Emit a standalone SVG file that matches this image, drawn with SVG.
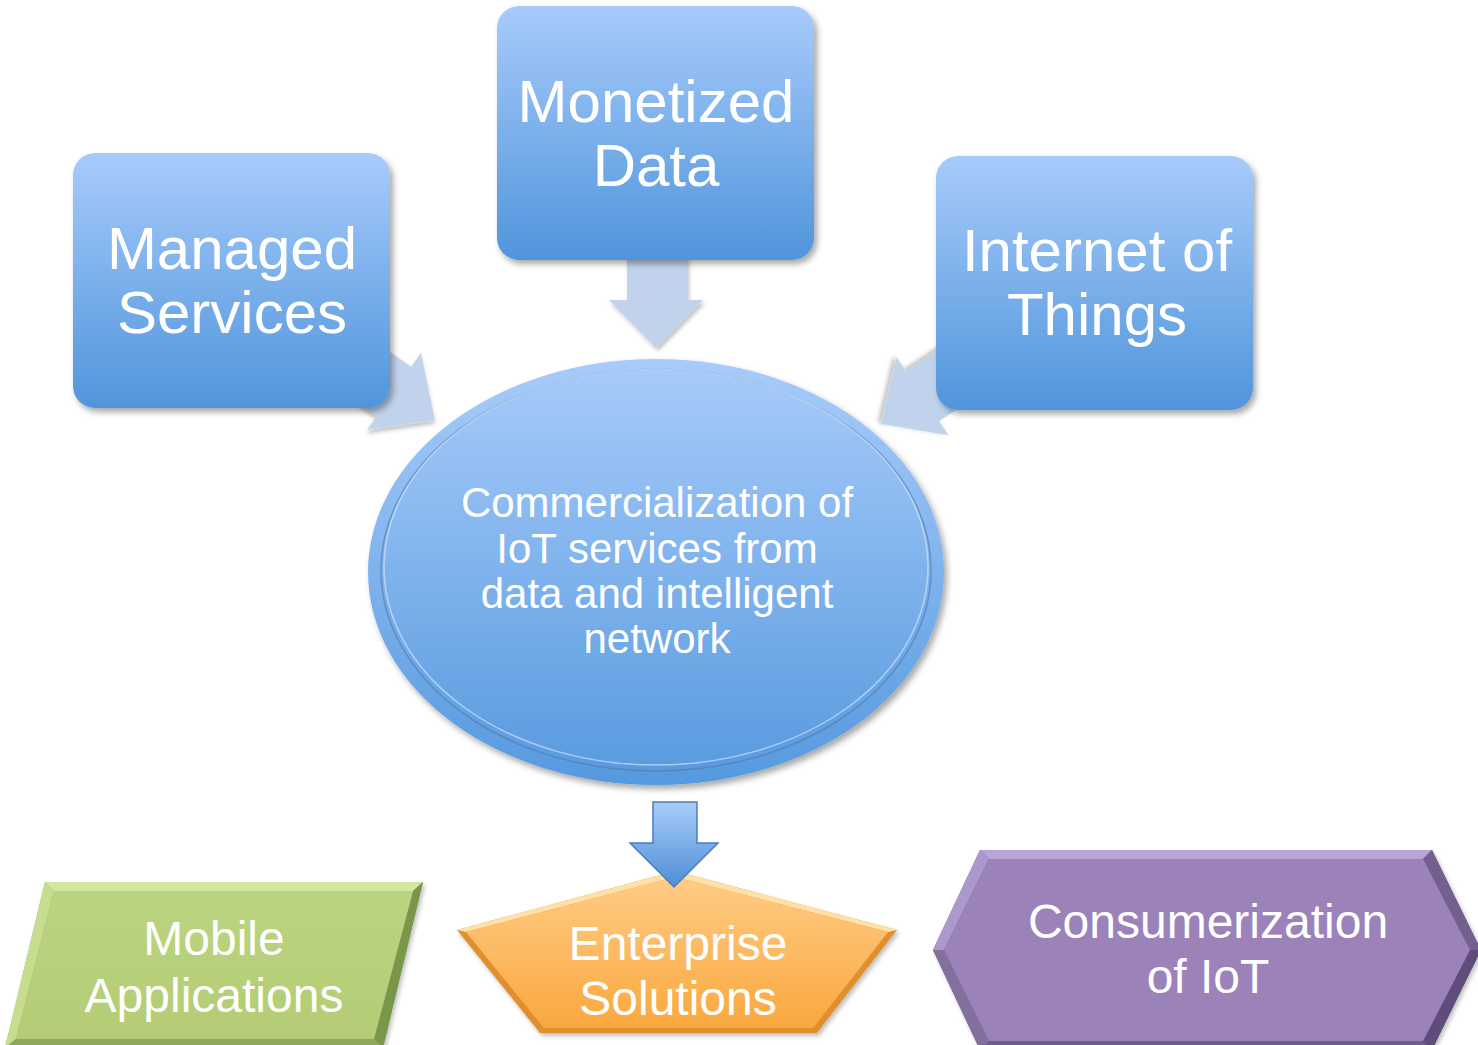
<svg xmlns="http://www.w3.org/2000/svg" width="1478" height="1045" viewBox="0 0 1478 1045">
<style>
.t{font-family:"Liberation Sans",Arial,sans-serif;fill:#ffffff;text-anchor:middle}
.big{font-size:60px}
.mid{font-size:48px}
.sm{font-size:42px}
.la{fill:#c1d3ec}
</style>
<defs>
<linearGradient id="gBox" x1="0" y1="0" x2="0" y2="1">
<stop offset="0" stop-color="#a7cbfb"/>
<stop offset="1" stop-color="#5095db"/>
</linearGradient>
<linearGradient id="gEll" x1="0" y1="0" x2="0" y2="1">
<stop offset="0" stop-color="#a8ccfb"/>
<stop offset="1" stop-color="#5699de"/>
</linearGradient>
<linearGradient id="gArr" x1="0" y1="0" x2="0" y2="1">
<stop offset="0" stop-color="#a9cdfa"/>
<stop offset="1" stop-color="#4c8ed6"/>
</linearGradient>
<linearGradient id="gOr" x1="0" y1="0" x2="0" y2="1">
<stop offset="0" stop-color="#ffcc86"/>
<stop offset="1" stop-color="#f9a83e"/>
</linearGradient>
<linearGradient id="gGr" x1="0" y1="0" x2="0" y2="1">
<stop offset="0" stop-color="#bbd480"/>
<stop offset="1" stop-color="#b3cc75"/>
</linearGradient>
<filter id="sh" x="-20%" y="-20%" width="140%" height="140%">
<feDropShadow dx="3" dy="4" stdDeviation="3" flood-color="#000" flood-opacity="0.35"/>
</filter>
<filter id="shs" x="-20%" y="-20%" width="140%" height="140%">
<feDropShadow dx="2" dy="3" stdDeviation="2" flood-color="#000" flood-opacity="0.25"/>
</filter>
</defs>

<g id="connectors">
<polygon class="la" filter="url(#shs)" points="627,255 687,255 687,300 703,300 656,348 609,300 627,300"/>
<polygon class="la" filter="url(#shs)" transform="translate(435,420) rotate(35)" points="0,0 -50,47 -50,30 -150,30 -150,-30 -50,-30 -50,-47"/>
<polygon class="la" filter="url(#shs)" transform="translate(881,424) rotate(146.3)" points="0,0 -50,47 -50,30 -150,30 -150,-30 -50,-30 -50,-47"/>
</g>

<g id="managed-services">
<rect x="73" y="153" width="317" height="255" rx="22" fill="url(#gBox)" filter="url(#sh)"/>
<text class="t big" x="232" y="269">Managed</text>
<text class="t big" x="232" y="333">Services</text>
</g>

<g id="monetized-data">
<rect x="497" y="6" width="317" height="254" rx="22" fill="url(#gBox)" filter="url(#sh)"/>
<text class="t big" x="656" y="122">Monetized</text>
<text class="t big" x="656" y="186">Data</text>
</g>

<g id="internet-of-things">
<rect x="936" y="156" width="317" height="254" rx="22" fill="url(#gBox)" filter="url(#sh)"/>
<text class="t big" x="1097" y="271">Internet of</text>
<text class="t big" x="1097" y="335">Things</text>
</g>

<g id="commercialization">
<ellipse cx="656" cy="572" rx="288" ry="213" fill="url(#gEll)" filter="url(#sh)"/>
<ellipse cx="656" cy="570" rx="275" ry="201" fill="none" stroke="#4f78a8" stroke-opacity="0.6" stroke-width="1.5"/>
<ellipse cx="656" cy="567" rx="272" ry="198" fill="none" stroke="#d6e7ff" stroke-opacity="0.65" stroke-width="1.5"/>
<text class="t sm" x="657" y="517">Commercialization of</text>
<text class="t sm" x="657" y="563">IoT services from</text>
<text class="t sm" x="657" y="608">data and intelligent</text>
<text class="t sm" x="657" y="653">network</text>
</g>

<g id="mobile-applications">
<polygon points="45,882 423,882 383,1048 5,1048" fill="#8aa55a" filter="url(#shs)"/>
<polygon points="45,882 423,882 413,891 54,891" fill="#d2e79b"/>
<polygon points="45,882 54,891 16,1039 5,1048" fill="#c6dd8e"/>
<polygon points="423,882 383,1048 374,1039 413,891" fill="#7a9648"/>
<polygon points="5,1048 383,1048 374,1039 16,1039" fill="#8ea95d"/>
<polygon points="54,891 413,891 374,1039 16,1039" fill="url(#gGr)"/>
<text class="t mid" x="214" y="955">Mobile</text>
<text class="t mid" x="214" y="1012">Applications</text>
</g>

<g id="enterprise-solutions">
<polygon points="675,871 897,930 817,1033 540,1033 457,930" fill="#e08f2e" filter="url(#shs)"/>
<polygon points="675,871 897,930 888,932 675,877 466,932 457,930" fill="#ffe0a6"/>
<polygon points="675,877 888,932 813,1028 544,1028 466,932" fill="url(#gOr)"/>
<text class="t mid" x="678" y="960">Enterprise</text>
<text class="t mid" x="678" y="1015">Solutions</text>
</g>

<g id="consumerization">
<polygon points="933,950 980,850 1432,850 1481,950 1432,1050 980,1050" fill="#6f5c8d" filter="url(#shs)"/>
<polygon points="980,850 1432,850 1423,859 989,859" fill="#b8a4d8"/>
<polygon points="933,950 980,850 989,859 944,950" fill="#ad98cd"/>
<polygon points="933,950 944,950 989,1041 980,1050" fill="#84709f"/>
<polygon points="1432,850 1481,950 1470,950 1423,859" fill="#74608f"/>
<polygon points="1481,950 1432,1050 1423,1041 1470,950" fill="#5f4c7a"/>
<polygon points="944,950 989,859 1423,859 1470,950 1423,1041 989,1041" fill="#9b83ba"/>
<text class="t mid" x="1208" y="938">Consumerization</text>
<text class="t mid" x="1208" y="993">of IoT</text>
</g>

<g id="arrow-down">
<polygon points="653,802 697,802 697,843 718,843 674,887 630,843 653,843" fill="url(#gArr)" stroke="#4a7ebf" stroke-width="1.5"/>
</g>
</svg>
